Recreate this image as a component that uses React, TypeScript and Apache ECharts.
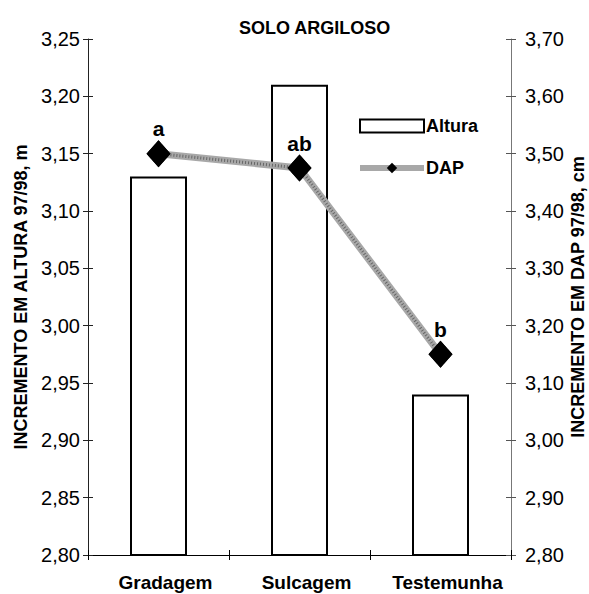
import React, { useEffect, useRef } from "react";
import * as echarts from "echarts";

const categories = ["Gradagem", "Sulcagem", "Testemunha"];
const alturaValues = [3.13, 3.21, 2.94];
const dapValues = [3.5, 3.475, 3.15];
const dapLetters = ["a", "ab", "b"];
const title = "SOLO ARGILOSO";
const leftName = "INCREMENTO EM ALTURA 97/98, m";
const rightName = "INCREMENTO EM DAP 97/98, cm";

const FONT = "Liberation Sans, Arial, sans-serif";

export default function App() {
  const ref = useRef<HTMLDivElement>(null);
  useEffect(() => {
    if (!ref.current) return;
    const chart = echarts.init(ref.current, null, { renderer: "svg" });
    const fmt = (v: number) => v.toFixed(2).replace(".", ",");
    const tickCross = (pos: string, color: string, min: number, max: number, interval: number) => ({
      type: "value",
      position: pos,
      min,
      max,
      interval,
      axisLine: { show: false },
      axisLabel: { show: false },
      splitLine: { show: false },
      axisTick: { show: true, inside: true, length: 5, lineStyle: { color, width: 1 } },
    });
    chart.setOption({
      animation: false,
      backgroundColor: "#ffffff",
      textStyle: { fontFamily: FONT },
      title: {
        text: title,
        left: 234,
        top: 14,
        textStyle: { fontFamily: FONT, fontSize: 18, fontWeight: "bold", color: "#000" },
      },
      legend: {
        orient: "vertical",
        left: 352,
        top: 112,
        itemWidth: 64,
        itemHeight: 13,
        itemGap: 24,
        textStyle: { fontFamily: FONT, fontSize: 18, fontWeight: "bold", color: "#000", padding: [0, 0, 0, -3] },
        data: [
          { name: "Altura", icon: "rect", itemStyle: { color: "#fff", borderColor: "#000", borderWidth: 2 } },
          { name: "DAP", lineStyle: { color: "#a8a8a8", width: 6 } },
        ],
      },
      grid: { left: 88, right: 78, top: 39, bottom: 39, containLabel: false, outerBoundsMode: "none" },
      xAxis: [
        {
          type: "category",
          data: categories,
          axisLine: { show: true, lineStyle: { color: "#000", width: 1 } },
          axisTick: { show: true, length: 5, alignWithLabel: false, lineStyle: { color: "#000" } },
          axisLabel: {
            interval: 0,
            fontFamily: FONT,
            fontSize: 19,
            fontWeight: "bold",
            color: "#000",
            margin: 18,
            padding: [0, 0, 0, 14],
          },
        },
        {
          type: "category",
          data: categories,
          position: "bottom",
          axisLine: { show: false },
          axisTick: { show: true, inside: true, length: 5, lineStyle: { color: "#000" } },
          axisLabel: { show: false },
        },
      ],
      yAxis: [
        {
          type: "value",
          position: "left",
          min: 2.8,
          max: 3.25,
          interval: 0.05,
          name: leftName,
          nameLocation: "middle",
          nameRotate: 90,
          nameGap: 58,
          nameMoveOverlap: false,
          nameTextStyle: { fontFamily: FONT, fontSize: 18, fontWeight: "bold", color: "#000" },
          axisLine: { show: true, lineStyle: { color: "#222", width: 1 } },
          axisTick: { show: true, length: 5, lineStyle: { color: "#222" } },
          axisLabel: { formatter: fmt, fontFamily: FONT, fontSize: 20, color: "#000", margin: 8 },
          splitLine: { show: false },
        },
        {
          type: "value",
          position: "right",
          min: 2.8,
          max: 3.7,
          interval: 0.1,
          name: rightName,
          nameLocation: "middle",
          nameRotate: 90,
          nameGap: 58,
          nameMoveOverlap: false,
          nameTextStyle: { fontFamily: FONT, fontSize: 18, fontWeight: "bold", color: "#000" },
          axisLine: { show: true, lineStyle: { color: "#777", width: 1 } },
          axisTick: { show: true, length: 5, lineStyle: { color: "#555" } },
          axisLabel: { formatter: fmt, fontFamily: FONT, fontSize: 20, color: "#000", margin: 14 },
          splitLine: { show: false },
        },
        tickCross("left", "#222", 2.8, 3.25, 0.05),
        tickCross("right", "#555", 2.8, 3.7, 0.1),
      ],
      series: [
        {
          name: "Altura",
          type: "bar",
          xAxisIndex: 0,
          yAxisIndex: 0,
          barWidth: 57,
          data: alturaValues,
          itemStyle: { color: "#ffffff", borderColor: "#000", borderWidth: 2 },
        },
        {
          name: "DAP",
          type: "line",
          xAxisIndex: 0,
          yAxisIndex: 1,
          data: dapValues,
          symbol: "diamond",
          symbolSize: [24, 27],
          itemStyle: { color: "#000" },
          lineStyle: { color: "#a8a8a8", width: 7 },
          z: 3,
        },
        {
          name: "DAP-texture",
          type: "line",
          xAxisIndex: 0,
          yAxisIndex: 1,
          data: dapValues,
          symbol: "none",
          silent: true,
          lineStyle: { color: "#666", width: 3, type: [1, 2] },
          z: 4,
        },
        {
          name: "DAP-marks",
          type: "line",
          xAxisIndex: 0,
          yAxisIndex: 1,
          data: dapValues,
          symbol: "diamond",
          symbolSize: [24, 27],
          itemStyle: { color: "#000" },
          lineStyle: { width: 0, opacity: 0 },
          z: 5,
          label: {
            show: true,
            position: "top",
            distance: 1,
            formatter: (p: any) => dapLetters[p.dataIndex],
            fontFamily: FONT,
            fontSize: 21,
            fontWeight: "bold",
            color: "#000",
          },
        },
      ],
    });
    return () => chart.dispose();
  }, []);
  return (
    <div
      ref={ref}
      style={{ position: "fixed", left: 0, top: 0, width: 589, height: 594, background: "#fff" }}
    />
  );
}
